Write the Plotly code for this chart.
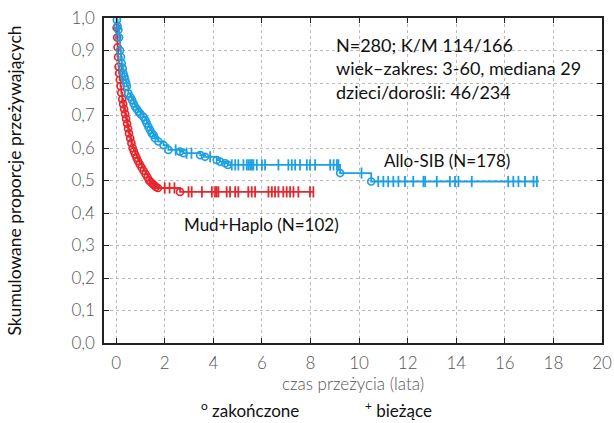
import numpy as np
import plotly.graph_objects as go

# ---- data ----
red_event_t = [0.02, 0.04, 0.06, 0.08, 0.10, 0.12, 0.15, 0.18, 0.21, 0.25, 0.29, 0.33, 0.37, 0.41,
               0.45, 0.49, 0.53, 0.58, 0.63, 0.68, 0.73, 0.78, 0.84, 0.90, 0.97, 1.05, 1.13, 1.21,
               1.29, 1.36, 1.43, 1.50, 1.57, 1.64, 1.72, 2.63]
red_event_s = [0.97, 0.94, 0.91, 0.88, 0.85, 0.83, 0.81, 0.79, 0.77, 0.75, 0.735, 0.72, 0.705, 0.69,
               0.675, 0.66, 0.645, 0.63, 0.615, 0.60, 0.59, 0.58, 0.57, 0.56, 0.55, 0.54, 0.53, 0.52,
               0.51, 0.50, 0.495, 0.49, 0.485, 0.48, 0.477, 0.465]
red_censor_t = [2.0, 2.2, 2.4, 2.98, 3.11, 3.53, 3.94, 4.07, 4.14, 4.21, 4.55, 4.69, 4.9, 5.03,
                5.44, 5.58, 5.72, 6.27, 6.41, 6.54, 6.68, 6.88, 7.02, 7.16, 7.3, 7.5, 7.98, 8.12]
red_end = 8.12

blue_event_t = [0.03, 0.06, 0.09, 0.12, 0.16, 0.20, 0.23, 0.27, 0.30, 0.34, 0.37, 0.41, 0.44, 0.50,
                0.58, 0.65, 0.72, 0.78, 0.85, 0.92, 1.00, 1.12, 1.20, 1.26, 1.33, 1.40, 1.47, 1.54,
                1.60, 1.74, 1.95, 2.15, 2.63, 2.77, 3.46, 3.66, 4.14, 4.28, 4.49, 4.60, 9.22, 10.5]
blue_event_s = [0.994, 0.975, 0.963, 0.94, 0.90, 0.88, 0.86, 0.845, 0.83, 0.82, 0.81, 0.80, 0.79,
                0.768, 0.757, 0.748, 0.737, 0.727, 0.72, 0.712, 0.705, 0.696, 0.686, 0.676, 0.665,
                0.655, 0.645, 0.64, 0.63, 0.62, 0.609, 0.594, 0.589, 0.584, 0.578, 0.573, 0.563,
                0.558, 0.553, 0.548, 0.523, 0.497]
blue_censor_t = [2.45, 2.9, 3.1, 3.87, 4.76, 4.9, 5.03, 5.24, 5.38, 5.45, 5.52, 5.59, 5.65, 5.79,
                 6.0, 6.13, 6.68, 7.09, 7.23, 7.37, 7.57, 7.85, 7.98, 8.19, 8.81, 8.95, 9.09, 9.15,
                 10.1, 10.79, 11.0, 11.2, 11.41, 11.62, 11.89, 12.23, 12.65, 12.72, 13.2, 13.74,
                 13.95, 14.09, 14.64, 16.14, 16.35, 16.56, 16.83, 17.18, 17.32]
blue_end = 17.4

x_ticks = list(range(0, 21, 2))
y_ticks = [round(0.1 * i, 1) for i in range(11)]

info_lines = ["N=280; K/M 114/166", "wiek–zakres: 3-60, mediana 29", "dzieci/dorośli: 46/234"]
legend_labels = ["zakończone", "bieżące"]

RED = "#e8262c"
BLUE = "#1ba1e2"
FONT = "Lato, 'Open Sans', sans-serif"


def step_value(event_t, event_s, t):
    idx = np.searchsorted(np.array(event_t), np.array(t), side="right") - 1
    s = np.array([1.0] + list(event_s))
    return s[idx + 1]


fig = go.Figure()


def add_curve(event_t, event_s, censor_t, end, color):
    lx = [0.0] + list(event_t) + [end]
    ly = [1.0] + list(event_s) + [event_s[-1]]
    fig.add_trace(go.Scatter(x=lx, y=ly, mode="lines", line=dict(color=color, width=1.8, shape="hv"),
                             showlegend=False, hoverinfo="skip"))
    fig.add_trace(go.Scatter(x=event_t, y=event_s, mode="markers",
                             marker=dict(symbol="circle-open", size=7, color=color, line=dict(width=1.7)),
                             showlegend=False))
    fig.add_trace(go.Scatter(x=censor_t, y=step_value(event_t, event_s, censor_t), mode="markers",
                             marker=dict(symbol="line-ns-open", size=8, color=color,
                                         line=dict(width=1.8, color=color)),
                             showlegend=False))


add_curve(red_event_t, red_event_s, red_censor_t, red_end, RED)
add_curve(blue_event_t, blue_event_s, blue_censor_t, blue_end, BLUE)

info_y = [0.917, 0.845, 0.773]
for line, yy in zip(info_lines, info_y):
    fig.add_annotation(x=8.95, y=yy, xref="x", yref="y", text=line, showarrow=False,
                       xanchor="left", yanchor="middle", font=dict(size=18, color="#111111", family=FONT))
fig.add_annotation(x=10.95, y=0.563, xref="x", yref="y", text="Allo-SIB (N=178)", showarrow=False,
                   xanchor="left", yanchor="middle", font=dict(size=17, color="#111111", family=FONT))
fig.add_annotation(x=2.72, y=0.366, xref="x", yref="y", text="Mud+Haplo (N=102)", showarrow=False,
                   xanchor="left", yanchor="middle", font=dict(size=17, color="#111111", family=FONT))

# legend drawn as text (small raised symbols as in the original)
fig.add_annotation(x=0.19, y=-0.205, xref="paper", yref="paper",
                   text="<sup>o</sup> " + legend_labels[0], showarrow=False, xanchor="left", yanchor="middle",
                   font=dict(size=17, color="#111111", family=FONT))
fig.add_annotation(x=0.52, y=-0.205, xref="paper", yref="paper",
                   text="<sup>+</sup> " + legend_labels[1], showarrow=False, xanchor="left", yanchor="middle",
                   font=dict(size=17, color="#111111", family=FONT))

fig.update_layout(
    width=614, height=423,
    margin=dict(l=104, r=12, t=18, b=80, autoexpand=False),
    paper_bgcolor="white", plot_bgcolor="white",
    separators=", ",
    showlegend=False,
    font=dict(family=FONT, color="#444444", size=16),
    xaxis=dict(range=[-0.5, 20], tickvals=x_ticks, ticks="inside", ticklen=5, tickcolor="#222222",
               showline=True, linecolor="#222222", linewidth=1.5, mirror="ticks",
               showgrid=True, gridcolor="#bbbbbb", griddash="dot", gridwidth=1, zeroline=False,
               ticklabelstandoff=4,
               title=dict(text="czas przeżycia (lata)", font=dict(size=17, color="#555555", weight=300),
                          standoff=4),
               tickfont=dict(size=17, color="#555555", weight=300)),
    yaxis=dict(range=[0, 1.0], tickvals=y_ticks, tickformat=".1f", ticks="inside", ticklen=5,
               tickcolor="#222222", showline=True, linecolor="#222222", linewidth=1.5, mirror="ticks",
               showgrid=True, gridcolor="#bbbbbb", griddash="dot", gridwidth=1, zeroline=False,
               ticklabelstandoff=4,
               title=dict(text="Skumulowane proporcje przeżywających", font=dict(size=17.5, color="#111111"),
                          standoff=45),
               tickfont=dict(size=17, color="#555555", weight=300)),
)

fig.write_html("out.html", config={"displayModeBar": False},
               post_script="document.body.style.margin='0';document.body.style.overflow='hidden';")
